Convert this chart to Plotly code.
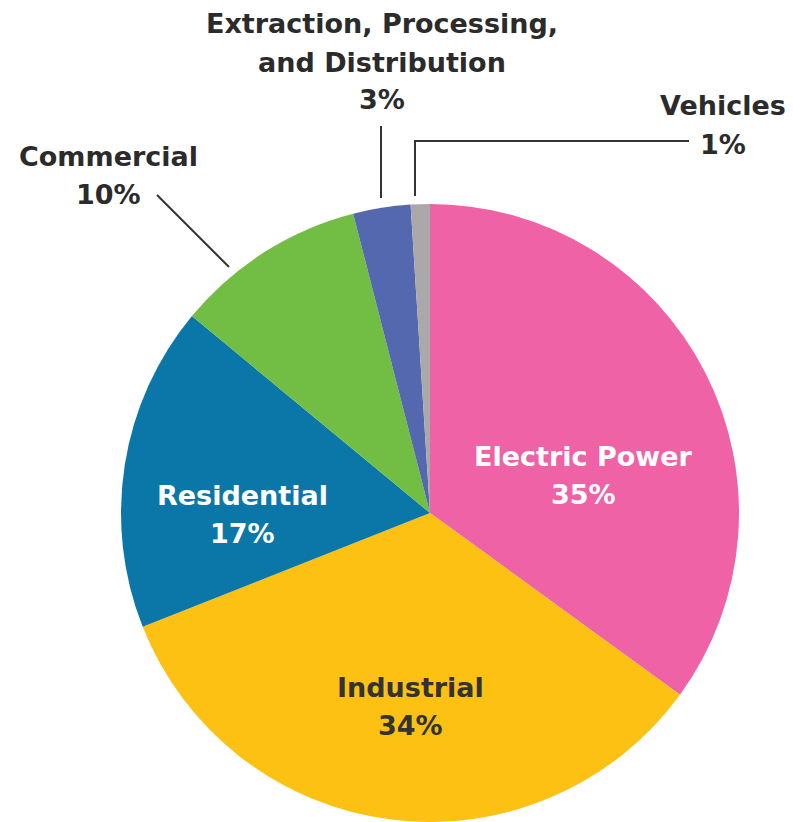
import plotly.graph_objects as go

# Energy use share by sector (percent), clockwise from 12 o'clock
sectors = ["Electric Power", "Industrial", "Residential", "Commercial",
           "Extraction, Processing,<br>and Distribution", "Vehicles"]
shares = [35, 34, 17, 10, 3, 1]
colors = ["#EF62A6", "#FCC112", "#0B77A8", "#72BE44", "#5468B0", "#AAA8A8"]

W, H = 793, 822
FONT = "DejaVu Sans"
LINE_GAP = 38  # pixel distance between label lines


def px(x):
    return x / W


def py(y):
    return 1 - y / H


fig = go.Figure(go.Pie(
    labels=sectors,
    values=shares,
    sort=False,
    direction="clockwise",
    rotation=0,
    marker=dict(colors=colors, line=dict(width=0)),
    textinfo="none",
    hoverinfo="label+percent",
    showlegend=False,
    domain=dict(x=[px(120), px(740)], y=[0, py(204)]),
))

# label placement: (center x, first-line y, text colour) in pixels
label_pos = [
    (583, 456, "white"),
    (411, 687, "#333333"),
    (243, 495, "white"),
    (108, 156, "#2b2b2b"),
    (382, 24, "#2b2b2b"),
    (723, 106, "#2b2b2b"),
]

annotations = []
for name, val, (x, y, c) in zip(sectors, shares, label_pos):
    lines = name.split("<br>") + [f"{val}%"]
    for i, line in enumerate(lines):
        annotations.append(dict(
            x=px(x), y=py(y + i * LINE_GAP), xref="paper", yref="paper",
            text=line, showarrow=False,
            xanchor="center", yanchor="middle", align="center",
            font=dict(family=FONT, size=27, color=c, weight="bold"),
        ))

# leader lines for the small outside-labelled slices
line_style = dict(color="#333333", width=2)
shapes = [
    dict(type="line", xref="paper", yref="paper",
         x0=px(157), y0=py(195), x1=px(229), y1=py(267), line=line_style),
    dict(type="line", xref="paper", yref="paper",
         x0=px(381), y0=py(126), x1=px(381), y1=py(198), line=line_style),
    dict(type="path", xref="paper", yref="paper",
         path=f"M {px(415)},{py(196)} L {px(415)},{py(141)} L {px(689)},{py(141)}",
         line=line_style),
]

fig.update_layout(
    width=W, height=H,
    margin=dict(l=0, r=0, t=0, b=0),
    paper_bgcolor="white",
    plot_bgcolor="white",
    annotations=annotations,
    shapes=shapes,
)

fig.write_html("out.html")
